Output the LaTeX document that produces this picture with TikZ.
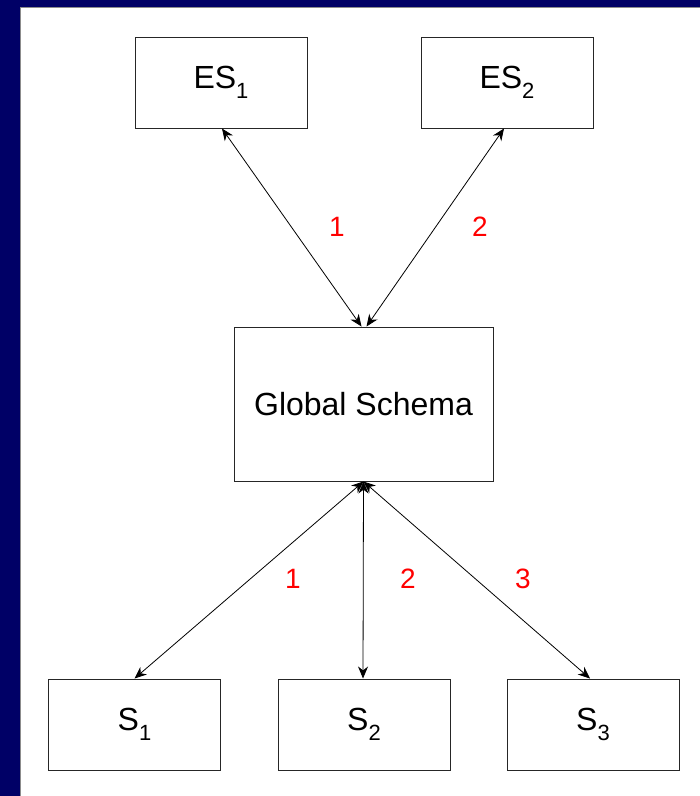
\documentclass[tikz,border=0pt]{standalone}
\usepackage{fontspec}
\setmainfont{Liberation Sans}
\usetikzlibrary{arrows.meta}
\definecolor{slidenavy}{HTML}{000066}
\newcommand{\sublow}[1]{\raisebox{-0.33em}{\fontsize{22}{22}\selectfont #1}}
\tikzset{
  box/.style={draw=black!85, line width=1pt, fill=white, minimum width=172pt,
    minimum height=91pt, inner sep=0pt, font=\fontsize{32}{36}\selectfont},
  link/.style={line width=0.8pt, {Stealth[length=12pt,width=10pt]}-{Stealth[length=12pt,width=10pt]}},
  tag/.style={text=red, font=\fontsize{28}{30}\selectfont}
}
\begin{document}
\begin{tikzpicture}[x=1pt,y=-1pt]
  \useasboundingbox (0,0) rectangle (700,796);
  \fill[slidenavy] (0,0) rectangle (700,796);
  \fill[white] (20,7) rectangle (700,796);
  \draw[black!45, line width=0.8pt] (20,796) -- (20,7) -- (700,7);

  % external schemas
  \node[box] (es1) at (221,82.5) {ES\sublow{1}};
  \node[box] (es2) at (507,82.5) {ES\sublow{2}};

  % global schema
  \node[box, minimum width=259pt, minimum height=154pt] (gs) at (363.5,404) {Global Schema};

  % local sources
  \node[box] (s1) at (134.5,724.5) {S\sublow{1}};
  \node[box] (s2) at (364,724.5) {S\sublow{2}};
  \node[box] (s3) at (593,724.5) {S\sublow{3}};

  % mappings
  \draw[link] ([xshift=1pt]es1.south) -- ([xshift=-2pt]gs.north);
  \draw[link] ([xshift=-3pt]es2.south) -- ([xshift=3pt]gs.north);
  \draw[link] (gs.south) -- (s1.north);
  \draw[link] (gs.south) -- ([xshift=-1pt]s2.north);
  \draw[link] (gs.south) -- ([xshift=-3pt]s3.north);

  % mapping numbers
  \node[tag] (t1) at (337,227) {1};
  \node[tag] (t2) at (480,227) {2};
  \node[tag] (b1) at (293,579) {1};
  \node[tag] (b2) at (408,579) {2};
  \node[tag] (b3) at (523,579) {3};
\end{tikzpicture}
\end{document}
